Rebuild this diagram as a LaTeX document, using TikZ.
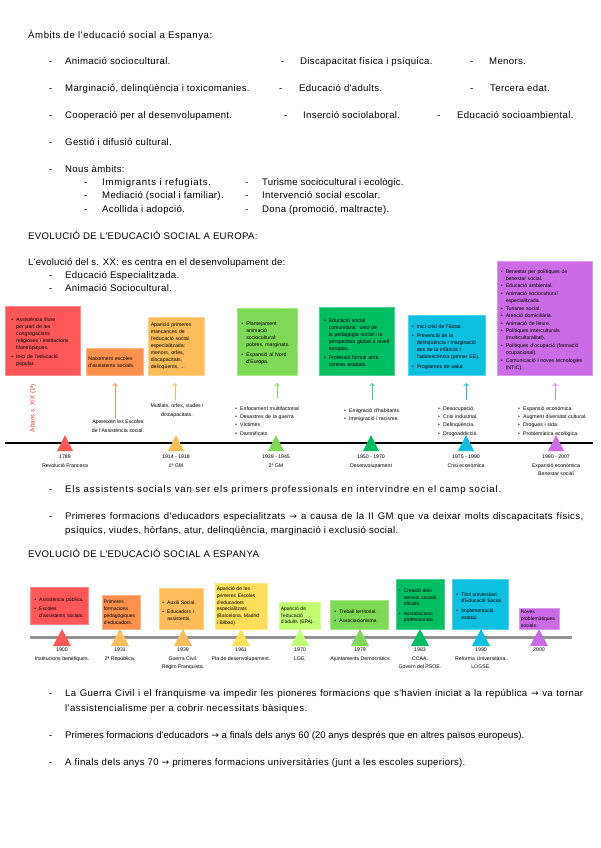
\documentclass[tikz,border=0pt]{standalone}
\usepackage{fontspec}
\setmainfont{Liberation Sans}
\newfontfamily\spaced{Liberation Sans}[LetterSpace=3.5]
\newfontfamily\djv{DejaVu Sans}[Scale=0.95]
\usetikzlibrary{arrows.meta}
\definecolor{cRed}{HTML}{FF5757}
\definecolor{cOrange}{HTML}{FF914D}
\definecolor{cLOrange}{HTML}{FFBD59}
\definecolor{cYellow}{HTML}{FFDE59}
\definecolor{cLime}{HTML}{C1FF72}
\definecolor{cLGreen}{HTML}{7ED957}
\definecolor{cGreen}{HTML}{00BF63}
\definecolor{cCyan}{HTML}{0CC0DF}
\definecolor{cPurple}{HTML}{CB6CE6}
\definecolor{cRedTxt}{HTML}{FF3131}
\newcommand\rarr{{\djv →}}
\newcommand\nohy{\hyphenpenalty=10000\exhyphenpenalty=10000}
\newcommand\mainfs{\spaced\fontsize{9.6}{11.5}\selectfont}
\newcommand\boxfs{\fontsize{5.2}{7}\selectfont\nohy}
\newcommand\sboxfs{\fontsize{5}{6.8}\selectfont\nohy}
\newcommand\lblfs{\fontsize{5.2}{8.2}\selectfont}
\newcommand\sw[2]{\makebox[#1pt][s]{#2}}
\newcommand\lsp[2]{{\addfontfeatures{LetterSpace=#1}#2}}
\newcommand\bi[1]{\par\hangindent=5pt\hangafter=1\noindent\makebox[5pt][l]{•}#1\par}
\newcommand\bgap{\vspace{2.5pt}}
\newcommand\tri[5]{\fill[#3] (#1-#4,#2+#5) -- (#1+#4,#2+#5) -- (#1,#2-#5) -- cycle;}
\begin{document}
\begin{tikzpicture}[x=1pt,y=-1pt,
  txt/.style={anchor=base west,inner sep=0pt,font=\mainfs},
  ebox/.style={anchor=north west,inner sep=0pt,align=left,font=\boxfs,fill=#1,draw=#1!70!white,line width=0.5pt},
  sbox/.style={ebox=#1,font=\sboxfs},
  lbl/.style={anchor=north,inner sep=0pt,align=center,font=\lblfs},
  blist/.style={anchor=north west,inner sep=0pt,align=left,font=\lblfs,text width=#1},
  upar/.style={draw=#1,line width=0.8pt,-{Straight Barb[length=2.4pt,width=4.8pt]}}]
\fill[white] (0,0) rectangle (600,848);
\useasboundingbox (0,0) rectangle (600,848);

% ---------- Ambits ----------
\node[txt] (tit1) at (28,39) {\lsp{6}{Àmbits de l'educació social a Espanya:}};
\node[txt] (d11) at (49,65) {-};
\node[txt] (a11) at (65,65) {Animació sociocultural.};
\node[txt] (d12) at (281,65) {-};
\node[txt] (a12) at (300,65) {Discapacitat física i psíquica.};
\node[txt] (d13) at (470,65) {-};
\node[txt] (a13) at (489,65) {Menors.};
\node[txt] (d21) at (49,92) {-};
\node[txt] (a21) at (65,92) {Marginació, delinqüència i toxicomanies.};
\node[txt] (d22) at (279,92) {-};
\node[txt] (a22) at (299,92) {Educació d'adults.};
\node[txt] (d23) at (470,92) {-};
\node[txt] (a23) at (490,92) {Tercera edat.};
\node[txt] (d31) at (49,118) {-};
\node[txt] (a31) at (65,118) {Cooperació per al desenvolupament.};
\node[txt] (d32) at (284,118) {-};
\node[txt] (a32) at (303,118) {Inserció sociolaboral.};
\node[txt] (d33) at (437,118) {-};
\node[txt] (a33) at (457,118) {Educació socioambiental.};
\node[txt] (d41) at (49,145) {-};
\node[txt] (a41) at (65,145) {Gestió i difusió cultural.};
\node[txt] (d51) at (49,172) {-};
\node[txt] (a51) at (65,172) {Nous àmbits:};
\node[txt] (s11d) at (84,185) {-};
\node[txt] (s11) at (102,185) {\lsp{7.5}{Immigrants i refugiats.}};
\node[txt] (s12d) at (245,185) {-};
\node[txt] (s12) at (262,185) {\lsp{2}{Turisme sociocultural i ecològic.}};
\node[txt] (s21d) at (84,198) {-};
\node[txt] (s21) at (102,198) {Mediació (social i familiar).};
\node[txt] (s22d) at (245,198) {-};
\node[txt] (s22) at (262,198) {Intervenció social escolar.};
\node[txt] (s31d) at (84,212) {-};
\node[txt] (s31) at (102,212) {Acollida i adopció.};
\node[txt] (s32d) at (245,212) {-};
\node[txt] (s32) at (262,212) {Dona (promoció, maltracte).};

% ---------- Europa ----------
\node[txt] (tit2) at (28,239) {EVOLUCIÓ DE L'EDUCACIÓ SOCIAL A EUROPA:};
\node[txt] (ev0) at (28,265) {\lsp{2.2}{L'evolució del s. XX: es centra en el desenvolupament de:}};
\node[txt] (ev1d) at (49,278) {-};
\node[txt] (ev1) at (65,278) {Educació Especialitzada.};
\node[txt] (ev2d) at (49,291) {-};
\node[txt] (ev2) at (65,291) {Animació Sociocultural.};

\node[ebox=cRed,minimum width=75pt,minimum height=69pt,text width=63pt] (eb1) at (5,306)
 {\bi{Assistència lliure per part de les congregacions religioses i institucions filantròpiques.}\bgap\bi{Inici de l'educació popular.}};
\node[ebox=cOrange,minimum width=57pt,minimum height=27pt,text width=53pt] (eb2) at (86,348)
 {Naixement escoles d'assistents socials.};
\node[ebox=cLOrange,minimum width=56pt,minimum height=58pt,text width=51pt] (eb3) at (148,317)
 {Aparició primeres mancances de l'educació social especialitzada: menors, orfes, discapacitats, delinqüents, ...};
\node[ebox=cLGreen,minimum width=60pt,minimum height=67pt,text width=52pt] (eb4) at (237,308)
 {\bi{Plantejament animació sociocultural: pobres, marginats.}\bgap\bi{Expansió al Nord d'Europa.}};
\node[ebox=cGreen,minimum width=75pt,minimum height=68pt,text width=66pt] (eb5) at (319,307)
 {\bi{Educació social comunitària: unió de la pedagogia social i la perspectiva global a nivell europeu.}\bgap\bi{Professió formal amb centres estatals.}};
\node[ebox=cCyan,minimum width=77pt,minimum height=60pt,text width=70pt] (eb6) at (408,315)
 {\bi{Inici crisi de l'Estat.}\bgap\bi{Prevenció de la delinqüència i marginació des de la infància i l'adolescència (primer EE).}\bgap\bi{Programes de salut.}};
\node[ebox=cPurple,minimum width=95pt,minimum height=114pt,text width=88pt] (eb7) at (497,261)
 {\bi{Benestar per polítiques de benestar social.}\vspace{0.6pt}\bi{Educació ambiental.}\vspace{0.6pt}\bi{Animació sociocultural especialitzada.}\vspace{0.6pt}\bi{Turisme social.}\vspace{0.6pt}\bi{Atenció domiciliària.}\vspace{0.6pt}\bi{Animació de lleure.}\vspace{0.6pt}\bi{Polítiques interculturals (multiculturalitat).}\vspace{0.6pt}\bi{Polítiques d'ocupació (formació ocupacional).}\vspace{0.6pt}\bi{Comunicació i noves tecnologies (NTIC).}};

\node[font=\fontsize{6.2}{7}\selectfont,text=cRedTxt,rotate=90,inner sep=0pt] (abans) at (33,408) {Abans s. XIX (1ª)};

\node[lbl] (el2) at (118,420) {Apareixen les Escoles\\de l'Assistència social.};
\coordinate (a2s) at (115,418); \coordinate (a2e) at (115,383);
\draw[upar=cOrange] (a2s) -- (a2e);
\node[lbl] (el3) at (177,404) {Mutilats, orfes, viudes i\\discapacitats.};
\coordinate (a3s) at (175,400); \coordinate (a3e) at (175,383);
\draw[upar=cLOrange] (a3s) -- (a3e);
\node[blist=80pt] (el4) at (235,402) {\bi{Enfocament multifactorial}\bi{Desastres de la guerra}\bi{Víctimes}\bi{Damnificats}};
\coordinate (a4s) at (277,398); \coordinate (a4e) at (277,383);
\draw[upar=cLGreen] (a4s) -- (a4e);
\node[blist=70pt] (el5) at (344,404) {\bi{Emigració d'habitants.}\bi{Immigració i racisme.}};
\coordinate (a5s) at (372,400); \coordinate (a5e) at (372,383);
\draw[upar=cGreen!75!white] (a5s) -- (a5e);
\node[blist=70pt] (el6) at (438,402) {\bi{Desocupació.}\bi{Crisi industrial.}\bi{Delinqüència.}\bi{Drogoaddicció.}};
\coordinate (a6s) at (466,400); \coordinate (a6e) at (466,383);
\draw[upar=cCyan] (a6s) -- (a6e);
\node[blist=80pt] (el7) at (518,402) {\bi{Expansió econòmica.}\bi{Augment diversitat cultural.}\bi{Drogues i sida.}\bi{Problemàtica ecològica.}};
\coordinate (a7s) at (555,400); \coordinate (a7e) at (555,383);
\draw[upar=cPurple!80!white] (a7s) -- (a7e);

\coordinate (eL0) at (5,443); \coordinate (eL1) at (593,443);
\draw[line width=2.6pt,black] (eL0) -- (eL1);
\tri{65}{443}{cRed}{8}{8}
\tri{176}{443}{cLOrange}{8}{8}
\tri{276}{443}{cLGreen}{8}{8}
\tri{371}{443}{cGreen}{8}{8}
\tri{466}{443}{cCyan}{8}{8}
\tri{556}{443}{cPurple}{8}{8}
\node[lbl] (et1) at (65,455) {1789\\Revolució Francesa};
\node[lbl] (et2) at (176,455) {1914 - 1918\\1ª GM};
\node[lbl] (et3) at (276,455) {1939 - 1945\\2ª GM};
\node[lbl] (et4) at (371,455) {1950 - 1970\\Desenvolupament};
\node[lbl] (et5) at (466,455) {1975 - 1990\\Crisi econòmica};
\node[lbl] (et6) at (556,455) {1990 - 2007\\Expansió econòmica\\Benestar social};

\node[txt] (p1d) at (49,492) {-};
\node[txt] (p1) at (65,492) {\lsp{8.5}{Els assistents socials van ser els primers professionals en intervindre en el camp social.}};
\node[txt] (p2d) at (49,519) {-};
\node[txt] (p2) at (65,519) {\sw{518}{Primeres formacions d'educadors especialitzats \rarr{} a causa de la II GM que va deixar molts discapacitats físics,}};
\node[txt] (p2b) at (65,533) {psíquics, viudes, hòrfans, atur, delinqüència, marginació i exclusió social.};

% ---------- Espanya ----------
\node[txt] (tit3) at (28,557) {EVOLUCIÓ DE L'EDUCACIÓ SOCIAL A ESPANYA};

\node[sbox=cRed,minimum width=58pt,minimum height=37pt,text width=50pt] (sb1) at (30,587)
 {\bi{Assistència pública.}\bgap\bi{Escoles d'assistents socials.}};
\node[sbox=cOrange,minimum width=38pt,minimum height=34pt,text width=35pt] (sb2) at (102,595)
 {Primeres formacions pedagògiques d'educadors.};
\node[sbox=cLOrange,minimum width=44pt,minimum height=41pt,text width=38pt] (sb3) at (159,588)
 {\bi{Auxili Social.}\bgap\bi{Educadors i assistents.}};
\node[sbox=cYellow,minimum width=52pt,minimum height=46pt,text width=49pt] (sb4) at (215,583)
 {Aparició de les primeres Escoles d'educadors especialitzats (Barcelona, Madrid i Bilbao).};
\node[sbox=cLime,minimum width=41pt,minimum height=27pt,text width=38pt] (sb5) at (279,602)
 {Aparició de l'educació d'adults (EPA).};
\node[sbox=cLGreen,minimum width=58pt,minimum height=29pt,text width=50pt] (sb6) at (330,600)
 {\bi{Treball territorial.}\bgap\bi{Associacionisme.}};
\node[sbox=cGreen,minimum width=48pt,minimum height=50pt,text width=43pt] (sb7) at (396,579)
 {\bi{Creació dels serveis socials oficials.}\bgap\bi{Associacions professionals.}};
\node[sbox=cCyan,minimum width=56pt,minimum height=50pt,text width=48pt] (sb8) at (452,579)
 {\bi{Títol universitari d'Educació Social.}\bgap\bi{Implementació estatal.}};
\node[sbox=cPurple,minimum width=40pt,minimum height=21pt,text width=37pt] (sb9) at (519,608)
 {Noves problemàtiques socials.};

\coordinate (sL0) at (30,637.5); \coordinate (sL1) at (572,637.5);
\draw[line width=2.4pt,gray!85] (sL0) -- (sL1);
\tri{62}{637.5}{cRed}{9}{8.5}
\tri{120}{637.5}{cLOrange}{9}{8.5}
\tri{183}{637.5}{cLOrange}{9}{8.5}
\tri{241}{637.5}{cYellow}{9}{8.5}
\tri{300}{637.5}{cLime}{9}{8.5}
\tri{360}{637.5}{cLGreen}{9}{8.5}
\tri{420}{637.5}{cGreen}{9}{8.5}
\tri{481}{637.5}{cCyan}{9}{8.5}
\tri{539}{637.5}{cPurple}{9}{8.5}
\node[lbl] (st1) at (62,648) {1900\\Institucions benèfiques.};
\node[lbl] (st2) at (120,648) {1931\\2ª República.};
\node[lbl] (st3) at (183,648) {1939\\Guerra Civil.\\Règim Franquista.};
\node[lbl] (st4) at (241,648) {1961\\Pla de desenvolupament.};
\node[lbl] (st5) at (300,648) {1970\\LGE.};
\node[lbl] (st6) at (360,648) {1979\\Ajuntaments Democràtics};
\node[lbl] (st7) at (420,648) {1983\\CCAA.\\Govern del PSOE.};
\node[lbl] (st8) at (481,648) {1990\\Reforma Universitària.\\LOGSE.};
\node[lbl] (st9) at (539,648) {2000};

\node[txt] (q1d) at (49,696) {-};
\node[txt] (q1) at (65,696) {\sw{518}{La Guerra Civil i el franquisme va impedir les pioneres formacions que s'havien iniciat a la república \rarr{} va tornar}};
\node[txt] (q1b) at (65,711) {\lsp{5}{l'assistencialisme per a cobrir necessitats bàsiques.}};
\node[txt] (q2d) at (49,738) {-};
\node[txt] (q2) at (65,738) {\lsp{0.3}{Primeres formacions d'educadors \rarr{} a finals dels anys 60 (20 anys després que en altres països europeus).}};
\node[txt] (q3d) at (49,765) {-};
\node[txt] (q3) at (65,765) {A finals dels anys 70 \rarr{} primeres formacions universitàries (junt a les escoles superiors).};
\end{tikzpicture}
\end{document}
